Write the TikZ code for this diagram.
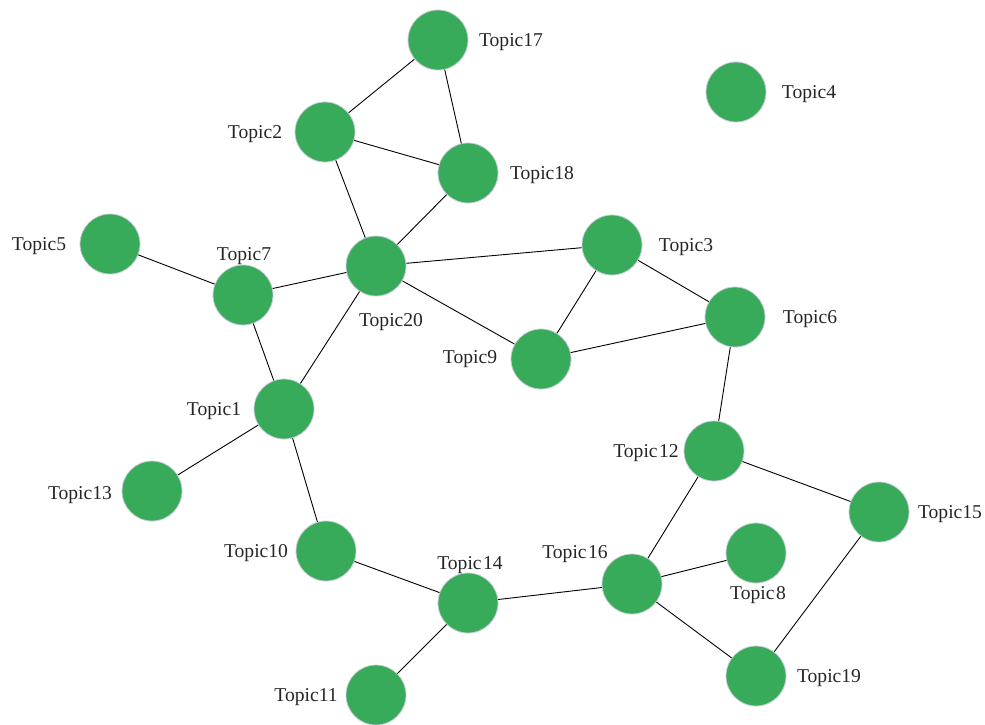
\documentclass[tikz,border=0pt]{standalone}
\usepackage{fontspec}
\setmainfont{Liberation Serif}
\definecolor{topicgreen}{HTML}{38AB5A}
\definecolor{rimgray}{HTML}{C8CDD8}
\begin{document}
\begin{tikzpicture}[x=1pt,y=-1pt,
  topic/.style={circle,fill=topicgreen,draw=rimgray,line width=0.8pt,minimum size=60pt,inner sep=0pt},
  lbl/.style={font=\fontsize{19.6}{22}\selectfont,text=black!85,inner sep=0pt},
  link/.style={draw=black,line width=0.9pt}]
\useasboundingbox (0,0) rectangle (985,724);
\node[topic] (t17) at (438,40) {};
\node[topic] (t4) at (736,92) {};
\node[topic] (t2) at (325,132) {};
\node[topic] (t18) at (468,173) {};
\node[topic] (t5) at (110,244) {};
\node[topic] (t7) at (243,295) {};
\node[topic] (t20) at (376,266) {};
\node[topic] (t3) at (612,245) {};
\node[topic] (t6) at (735,317) {};
\node[topic] (t9) at (541,359) {};
\node[topic] (t1) at (284,409) {};
\node[topic] (t13) at (152,491) {};
\node[topic] (t12) at (714,451) {};
\node[topic] (t15) at (879,512) {};
\node[topic] (t10) at (326,551) {};
\node[topic] (t14) at (468,603) {};
\node[topic] (t16) at (632,584) {};
\node[topic] (t8) at (756,553) {};
\node[topic] (t19) at (756,676) {};
\node[topic] (t11) at (376,695) {};
\path[link] (t17) -- (t2) (t17) -- (t18) (t2) -- (t18) (t2) -- (t20) (t18) -- (t20)
  (t20) -- (t7) (t7) -- (t5) (t7) -- (t1) (t20) -- (t1) (t20) -- (t3) (t20) -- (t9)
  (t3) -- (t9) (t3) -- (t6) (t9) -- (t6) (t6) -- (t12) (t12) -- (t15) (t12) -- (t16)
  (t16) -- (t8) (t16) -- (t19) (t19) -- (t15) (t16) -- (t14) (t14) -- (t10)
  (t14) -- (t11) (t10) -- (t1) (t1) -- (t13);
\node[lbl] (l17) at (511,42) {Topic17};
\node[lbl] (l4) at (809,94) {Topic4};
\node[lbl] (l2) at (255,134) {Topic2};
\node[lbl] (l18) at (542,175) {Topic18};
\node[lbl] (l5) at (39,246) {Topic5};
\node[lbl] (l7) at (244,256) {Topic7};
\node[lbl] (l20) at (391,322) {Topic20};
\node[lbl] (l3) at (686,247) {Topic3};
\node[lbl] (l6) at (810,319) {Topic6};
\node[lbl] (l9) at (470,359) {Topic9};
\node[lbl] (l1) at (214,411) {Topic1};
\node[lbl] (l13) at (80,495) {Topic13};
\node[lbl] (l12) at (646,453) {Topic\kern1.5pt 12};
\node[lbl] (l15) at (950,514) {Topic15};
\node[lbl] (l10) at (256,553) {Topic10};
\node[lbl] (l14) at (470,565) {Topic\kern1.5pt 14};
\node[lbl] (l16) at (575,554) {Topic\kern1.5pt 16};
\node[lbl] (l8) at (758,595) {Topic\kern1.5pt 8};
\node[lbl] (l19) at (829,678) {Topic19};
\node[lbl] (l11) at (306,697) {Topic11};
\end{tikzpicture}
\end{document}
